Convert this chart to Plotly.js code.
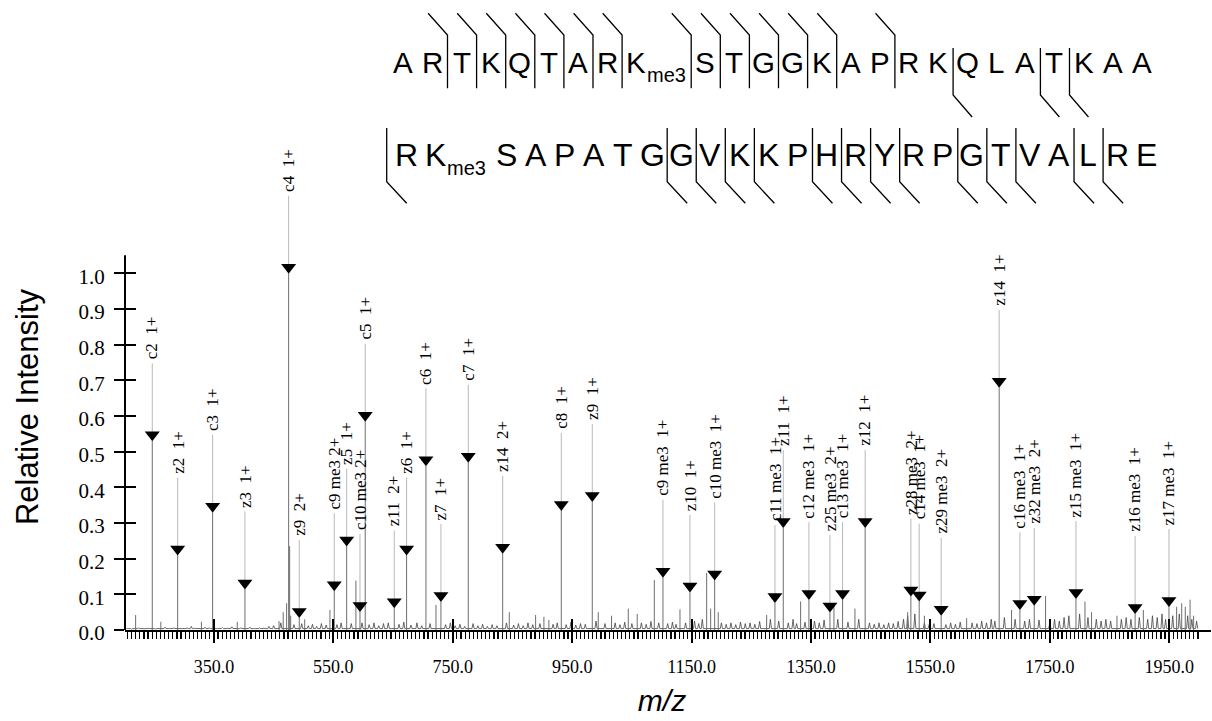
<!DOCTYPE html>
<html><head><meta charset="utf-8">
<script src="https://cdn.plot.ly/plotly-3.0.1.min.js"></script>
<style>html,body{margin:0;padding:0;background:#fff}#chart{width:1212px;height:721px}</style>
</head><body><div id="chart"></div>
<script>
// ---------------- data ----------------
const ionLabels = ['c2  1+','z2  1+','c3  1+','z3  1+','c4  1+','z9  2+','c9 me3 2+','z5  1+','c10 me3 2+','c5  1+',
  'z11  2+','z6  1+','c6  1+','z7  1+','c7  1+','z14  2+','c8  1+','z9  1+','c9 me3  1+','z10  1+',
  'c10 me3  1+','c11 me3  1+','z11  1+','c12 me3  1+','z25 me3  2+','c13 me3  1+','z12  1+','z28 me3  2+','c14 me3  1+','z29 me3  2+',
  'z14  1+','c16 me3  1+','z32 me3  2+','z15 me3  1+','z16 me3  1+','z17 me3  1+'];
const ionMz = [246.7,289.2,347.8,401.9,475.1,492.9,551.5,572.3,594.6,603.4,
  652.0,672.7,705.1,730.2,776.0,833.6,931.8,983.7,1102.1,1147.3,
  1188.7,1289.7,1303.6,1346.6,1381.8,1403.0,1440.8,1517.4,1531.3,1568.1,
  1665.3,1700.0,1724.0,1793.9,1893.0,1949.7];
const ionIntensity = [0.53,0.21,0.33,0.115,1.0,0.035,0.11,0.235,0.052,0.585,
  0.062,0.21,0.46,0.08,0.47,0.215,0.335,0.36,0.148,0.106,
  0.14,0.077,0.287,0.085,0.05,0.085,0.287,0.095,0.081,0.041,
  0.68,0.057,0.069,0.088,0.046,0.066];

const otherPeakMz = [218.8,261,329,389,459,466,471.7,476.8,478.5,502,544.3,587.8,721.9,844.7,888.8,902.7,911,
  993.7,1016,1044,1059,1087.6,1130.6,1175.3,1182,1194.7,1275.8,1332.7,1388.5,1423.7,1512,1540,1610.8,
  1686,1743,1809,1820,1862.6,1906.8,1962.5,1971,1977,1985,1991];
const otherPeakIntensity = [0.042,0.023,0.023,0.023,0.025,0.05,0.075,0.235,0.04,0.03,0.056,0.138,0.07,0.05,0.042,0.037,0.028,
  0.05,0.04,0.06,0.045,0.14,0.058,0.16,0.06,0.05,0.042,0.08,0.075,0.06,0.05,0.04,0.033,
  0.056,0.095,0.08,0.05,0.04,0.056,0.065,0.075,0.065,0.085,0.04];

const baselineNoise = [
  [205,.004],[212,.002],[224,.006],[233,.003],[241,.005],[252,.003],[268,.008],[276,.004],[283,.006],[295,.004],
  [305,.006],[312,.010],[318,.005],[335,.008],[342,.006],[356,.004],[364,.007],[372,.005],[380,.009],[395,.006],
  [410,.008],[418,.004],[426,.006],[434,.005],[442,.010],[450,.012],[462,.020],[484,.015],[497,.018],
  [508,.012],[515,.016],[522,.010],[530,.018],[538,.014],[556,.015],[563,.020],[580,.018],[598,.020],
  [610,.015],[618,.020],[626,.012],[634,.018],[642,.020],[660,.016],[668,.022],[680,.014],[690,.020],[698,.012],
  [712,.018],[738,.015],[746,.020],[754,.012],[762,.016],[770,.010],[784,.018],[792,.012],[800,.016],
  [808,.010],[816,.015],[824,.012],[840,.020],[852,.014],[860,.018],[868,.012],[876,.020],[884,.015],[896,.018],
  [918,.016],[925,.020],[940,.015],[948,.022],[956,.014],[964,.018],[972,.016],[990,.025],
  [1005,.018],[1022,.020],[1030,.015],[1038,.022],[1050,.018],[1066,.020],[1074,.016],[1082,.024],[1095,.020],
  [1110,.018],[1118,.022],[1124,.016],[1140,.020],[1155,.025],[1162,.018],[1168,.030],[1200,.020],
  [1208,.016],[1216,.020],[1224,.015],[1232,.022],[1240,.018],[1248,.020],[1256,.016],[1264,.024],[1282,.030],[1296,.025],
  [1312,.020],[1320,.030],[1326,.018],[1340,.022],[1356,.025],[1364,.020],[1372,.028],[1395,.030],
  [1412,.022],[1430,.030],[1448,.020],[1456,.016],[1464,.020],[1472,.015],[1480,.020],[1488,.018],[1496,.024],[1505,.030],
  [1512,.040],[1524,.045],[1540,.020],[1548,.015],[1556,.018],[1576,.015],[1584,.020],[1592,.016],[1600,.022],
  [1620,.020],[1628,.018],[1636,.025],[1644,.020],[1652,.030],[1658,.025],[1674,.035],[1692,.030],
  [1708,.025],[1716,.030],[1732,.028],[1750,.020],[1758,.030],[1766,.025],[1774,.035],[1782,.040],[1800,.045],
  [1814,.035],[1828,.030],[1836,.025],[1844,.030],[1852,.025],[1870,.030],[1878,.035],[1886,.030],[1900,.035],
  [1914,.030],[1922,.040],[1930,.035],[1938,.045],[1944,.030],[1956,.040],[1967,.045],[1981,.040],[1988,.030],[1996,.025]
];

const xTickVals = [350,550,750,950,1150,1350,1550,1750,1950];
const xTickText = ['350.0','550.0','750.0','950.0','1150.0','1350.0','1550.0','1750.0','1950.0'];
const yTickVals = [0,0.1,0.2,0.3,0.4,0.5,0.6,0.7,0.8,0.9,1.0];
const yTickText = ['0.0','0.1','0.2','0.3','0.4','0.5','0.6','0.7','0.8','0.9','1.0'];

const seqRow1 = ['A','R','T','K','Q','T','A','R','K','S','T','G','G','K','A','P','R','K','Q','L','A','T','K','A','A'];
const seqRow2 = ['R','K','S','A','P','A','T','G','G','V','K','K','P','H','R','Y','R','P','G','T','V','A','L','R','E'];
const row1Me3Index = 8, row2Me3Index = 1;
const row1CBreaks = [2,3,4,5,6,7,8,9,10,11,12,13,14,16];
const row1ZBreaks = [18,21,22];
const row2ZBreaks = [0,8,9,10,11,13,14,15,16,18,19,20,22,23];

// ---------------- layout helpers ----------------
const L=125, R=1199, T=184, B=630;
const px2x = p => (p-L)/(R-L);
const py2y = p => (B-p)/(B-T);
const SERIF = 'Liberation Serif, Times New Roman, serif';
const SANS = 'Liberation Sans, Arial, sans-serif';
const TRI_OFF = 0.017, LEAD = 0.2, FOOT = 0.004, HALF = 1.8;

// spectrum: baseline noise drawn as a jagged profile of small spikes
const noiseX = [], noiseY = [];
baselineNoise.forEach(p=>{ noiseX.push(p[0]-HALF, p[0], p[0]+HALF); noiseY.push(FOOT, p[1], FOOT); });
const stickX = [], stickY = [];
function addStick(m,h){ stickX.push(m,m,null); stickY.push(0,h,null); }
otherPeakMz.forEach((m,i)=>addStick(m, otherPeakIntensity[i]));
ionMz.forEach((m,i)=>addStick(m, ionIntensity[i]));

const triY = ionIntensity.map(h=>h+TRI_OFF);
const leadX = [], leadY = [];
ionMz.forEach((m,i)=>{ leadX.push(m,m,null); leadY.push(triY[i], triY[i]+LEAD, null); });

const traces = [
  {type:'scatter', mode:'lines', x:noiseX, y:noiseY, line:{color:'#444', width:0.8, simplify:false}, hoverinfo:'skip', showlegend:false},
  {type:'scatter', mode:'lines', x:stickX, y:stickY, line:{color:'#6e6e6e', width:1, simplify:false}, connectgaps:false, hoverinfo:'skip', showlegend:false},
  {type:'scatter', mode:'lines', x:leadX, y:leadY, line:{color:'#b8b8b8', width:1}, connectgaps:false, hoverinfo:'skip', showlegend:false},
  {type:'scatter', mode:'markers', x:ionMz, y:triY, marker:{symbol:'triangle-down', size:13, color:'#000'}, text:ionLabels, hoverinfo:'text', showlegend:false, cliponaxis:false},
  {type:'scatter', mode:'markers', x:[null], y:[null], xaxis:'x2', yaxis:'y', showlegend:false, hoverinfo:'skip'},
  {type:'scatter', mode:'markers', x:[null], y:[null], xaxis:'x', yaxis:'y2', showlegend:false, hoverinfo:'skip'}
];

const annotations = [];
ionMz.forEach((m,i)=>{
  annotations.push({x:m, y:triY[i]+LEAD, xref:'x', yref:'y', text:ionLabels[i].replace(/ /g,'\u00a0'),
    showarrow:false, textangle:-90, xanchor:'center', yanchor:'bottom', yshift:2,
    font:{family:SERIF, size:17, color:'#000'}});
});

// peptide sequence
const shapes = [];
function rowX(i, start, step, me3, extra){ return start + i*step + (i>me3 ? extra : 0); }
function addRow(seq, start, step, me3, extra, centerY, fs, me3Y){
  seq.forEach((c,i)=>{
    const x = rowX(i,start,step,me3,extra);
    annotations.push({x:px2x(x), y:py2y(centerY), xref:'paper', yref:'paper', text:c, showarrow:false,
      xanchor:'center', yanchor:'middle', font:{family:SANS, size:fs, color:'#000'}});
    if(i===me3){
      annotations.push({x:px2x(x+fs*0.33), y:py2y(me3Y), xref:'paper', yref:'paper', text:'me3', showarrow:false,
        xanchor:'left', yanchor:'middle', borderpad:0, font:{family:SANS, size:20, color:'#000'}});
    }
  });
}
const R1 = {start:403.3, step:29.1, me3:row1Me3Index, extra:40};
const R2 = {start:406.7, step:29.06, me3:row2Me3Index, extra:42};
addRow(seqRow1, R1.start, R1.step, R1.me3, R1.extra, 62, 29.5, 75);
addRow(seqRow2, R2.start, R2.step, R2.me3, R2.extra, 155, 32, 168);

function pathShape(pts){
  const d = pts.map((p,k)=>(k?'L':'M')+px2x(p[0]).toFixed(5)+','+py2y(p[1]).toFixed(5)).join(' ');
  return {type:'path', xref:'paper', yref:'paper', path:d, line:{color:'#000', width:1.3}};
}
row1CBreaks.forEach(i=>{
  const x = rowX(i,R1.start,R1.step,R1.me3,R1.extra) - 14;
  shapes.push(pathShape([[x-19.4,13.3],[x,35],[x,88.3]]));
});
row1ZBreaks.forEach(i=>{
  const x = rowX(i,R1.start,R1.step,R1.me3,R1.extra) - 14;
  shapes.push(pathShape([[x,48],[x,95],[x+19,117]]));
});
row2ZBreaks.forEach(i=>{
  const x = rowX(i,R2.start,R2.step,R2.me3,R2.extra) - (i===0 ? 20 : 14);
  shapes.push(pathShape([[x,128],[x,181.7],[x+20,203.3]]));
});
// y axis line (stops at 1.05) and x axis extension past the range
shapes.push({type:'line', xref:'paper', yref:'y', x0:0, x1:0, y0:0, y1:1.05, line:{color:'#000', width:2}});
shapes.push({type:'line', xref:'paper', yref:'paper', x0:1, x1:px2x(1211), y0:py2y(631), y1:py2y(631), line:{color:'#000', width:2}});

const xr = [201, 2000], yr = [0, 1.25];
const layout = {
  width:1212, height:721,
  margin:{l:L, r:1212-R, t:T, b:721-B},
  paper_bgcolor:'#fff', plot_bgcolor:'#fff',
  showlegend:false,
  xaxis:{range:xr, showgrid:false, zeroline:false, showline:true, linecolor:'#000', linewidth:2,
    tickmode:'array', tickvals:xTickVals, ticktext:xTickText, ticks:'outside', ticklen:11, tickwidth:2, tickcolor:'#000',
    minor:{tickmode:'linear', tick0:350, dtick:200/29, ticks:'outside', ticklen:7, tickwidth:1.2, tickcolor:'#000', showgrid:false},
    ticklabelstandoff:8,
    tickfont:{family:SERIF, size:18, color:'#000'},
    title:{text:'<i>m/z</i>', font:{family:SANS, size:30, color:'#000'}, standoff:14}},
  xaxis2:{range:xr, overlaying:'x', anchor:'y', side:'bottom', showgrid:false, zeroline:false, showline:false,
    tickmode:'array', tickvals:xTickVals, ticks:'inside', ticklen:11, tickwidth:2, tickcolor:'#000', showticklabels:false},
  yaxis:{range:yr, showgrid:false, zeroline:false, showline:false,
    tickmode:'array', tickvals:yTickVals, ticktext:yTickText, ticks:'outside', ticklen:10, tickwidth:2, tickcolor:'#000',
    ticklabelstandoff:5, ticklabelshift:3,
    tickfont:{family:SERIF, size:21, color:'#000'},
    title:{text:'Relative Intensity', font:{family:SANS, size:31, color:'#000'}, standoff:30}},
  yaxis2:{range:yr, overlaying:'y', anchor:'x', side:'left', showgrid:false, zeroline:false, showline:false,
    tickmode:'array', tickvals:yTickVals, ticks:'inside', ticklen:11, tickwidth:2, tickcolor:'#000', showticklabels:false},
  annotations: annotations,
  shapes: shapes
};
Plotly.newPlot('chart', traces, layout, {displayModeBar:false, staticPlot:true});
</script>
</body></html>
